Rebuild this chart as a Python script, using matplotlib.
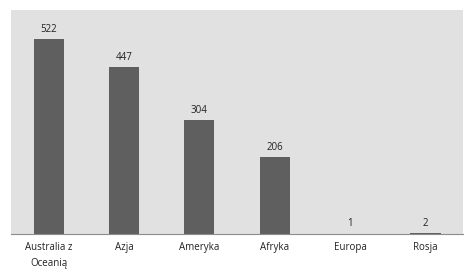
import matplotlib
matplotlib.use('Agg')
import matplotlib.pyplot as plt

categories = ['Australia z\nOceanią', 'Azja', 'Ameryka', 'Afryka', 'Europa', 'Rosja']
values = [522, 447, 304, 206, 1, 2]

plt.rcParams['font.family'] = ['Open Sans', 'DejaVu Sans']

fig = plt.figure(figsize=(4.72, 2.74), dpi=100)
ax = fig.add_axes([0.0233, 0.146, 0.958, 0.818])
ax.set_facecolor('#e1e1e1')

x = range(len(categories))
bars = ax.bar(x, values, width=0.4, color='#5f5f5f')
for b, v in zip(bars, values):
    ax.text(b.get_x() + b.get_width() / 2, v + 12, str(v),
            ha='center', va='bottom', fontsize=7, color='#222222')

ax.set_xlim(-0.5, len(categories) - 0.5)
ax.set_ylim(0, 600)
ax.set_yticks([])
ax.set_xticks(list(x))
ax.set_xticklabels(categories, fontsize=7, color='#222222', linespacing=1.55)
ax.tick_params(axis='x', length=0, pad=6)
for s in ['top', 'right', 'left']:
    ax.spines[s].set_visible(False)
ax.spines['bottom'].set_color('#8c8c8c')
ax.spines['bottom'].set_linewidth(0.8)

fig.savefig('out.png', dpi=100)
